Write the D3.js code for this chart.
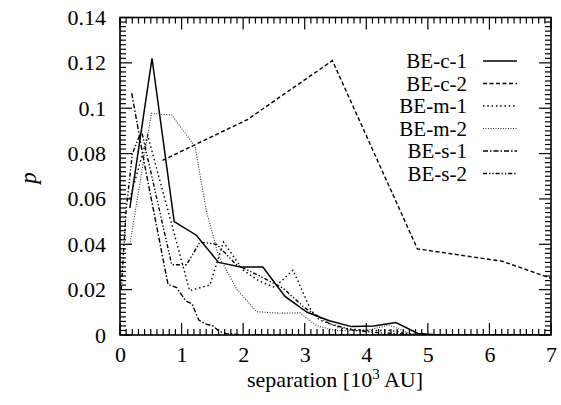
<!DOCTYPE html>
<html><head><meta charset="utf-8">
<script src="https://cdn.jsdelivr.net/npm/d3@7"></script>
<style>body{margin:0;background:#fff}svg{display:block}</style>
</head><body>
<script>
const seriesNames = ["BE-c-1","BE-c-2","BE-m-1","BE-m-2","BE-s-1","BE-s-2"];
const c1x = [0.16,0.52,0.88,1.24,1.60,1.96,2.32,2.68,3.04,3.40,3.76,4.12,4.48,4.84,5.20,5.56,5.92,6.28,6.64,7.00];
const c1y = [0.056,0.122,0.050,0.044,0.032,0.030,0.030,0.017,0.010,0.0063,0.0037,0.004,0.0055,0.0007,0,0,0,0,0,0];
const c2x = [0.69,2.07,3.45,4.83,6.21,7.0];
const c2y = [0.077,0.095,0.121,0.038,0.0325,0.025];
const m1x = [0.16,0.45,1.13,1.46,1.68,2.0,2.25,2.51,2.81,3.1,3.24,3.6,4.0,4.4,4.8,6.0,7.0];
const m1y = [0.06,0.088,0.0196,0.022,0.041,0.0286,0.024,0.021,0.0286,0.011,0.0066,0.003,0.002,0.002,0,0,0];
const m2x = [0.16,0.51,0.84,1.03,1.22,1.40,1.6,1.9,2.22,2.59,2.92,3.2,3.5,4.0,4.38,4.75,5.5,7.0];
const m2y = [0.04,0.0977,0.097,0.090,0.083,0.055,0.035,0.020,0.0103,0.0096,0.0098,0.004,0.002,0.002,0.0044,0,0,0];
const s1x = [0.19,0.40,0.78,0.92,1.07,1.17,1.28,1.40,1.51,1.62,1.72,2.0,3.0,5.0,7.0];
const s1y = [0.1066,0.075,0.0223,0.0209,0.015,0.0137,0.0066,0.0048,0.004,0.0015,0.0007,0,0,0,0];
const s2x = [0.02,0.10,0.20,0.35,0.84,1.08,1.30,1.57,1.89,2.27,2.65,3.0,3.4,3.8,4.2,5.0,7.0];
const s2y = [0.02,0.055,0.08,0.09,0.031,0.031,0.041,0.040,0.031,0.026,0.0206,0.012,0.005,0.002,0.001,0,0];
const xTicks = [0,1,2,3,4,5,6,7];
const yTicks = [0,0.02,0.04,0.06,0.08,0.1,0.12,0.14];
const yTickLabels = ["0","0.02","0.04","0.06","0.08","0.1","0.12","0.14"];

const FONT = "'Liberation Serif','Times New Roman',Times,'DejaVu Serif',serif";
const W=561,H=405, L=120, R=551, T=17.5, B=335;
const svg=d3.select("body").append("svg").attr("width",W).attr("height",H).style("font-family",FONT);
const x=d3.scaleLinear().domain([0,7]).range([L,R]);
const y=d3.scaleLinear().domain([0,0.14]).range([B,T]);

const styles=[
 {dash:null, w:1.5, c:"#000"},
 {dash:"4,2.5", w:1.4, c:"#000"},
 {dash:"1.5,2.8", w:1.4, c:"#000"},
 {dash:"1,1.5", w:1.1, c:"#333"},
 {dash:"5,2,1.5,2", w:1.4, c:"#000"},
 {dash:"4,2,1.3,2,1.3,2", w:1.4, c:"#000"}
];
const data=[[c1x,c1y],[c2x,c2y],[m1x,m1y],[m2x,m2y],[s1x,s1y],[s2x,s2y]];
svg.append("clipPath").attr("id","clip").append("rect").attr("x",L).attr("y",T).attr("width",R-L).attr("height",B-T);
const line=d3.line().x(d=>x(d[0])).y(d=>y(d[1]));
const g=svg.append("g").attr("clip-path","url(#clip)");
data.forEach((s,i)=>{
  const pts=s[0].map((v,j)=>[v,s[1][j]]);
  g.append("path").attr("d",line(pts)).attr("fill","none").attr("stroke",styles[i].c)
   .attr("stroke-width",styles[i].w).attr("stroke-dasharray",styles[i].dash).attr("stroke-linejoin","miter");
});

const ax=svg.append("g");
const xMinor=d3.range(0,7.0001,0.1), yMinor=d3.range(0,0.14001,0.002);
xMinor.forEach(v=>{
  const major=Math.abs(v-Math.round(v))<1e-6, len=major?12:6;
  ax.append("line").attr("x1",x(v)).attr("x2",x(v)).attr("y1",B).attr("y2",B-len).attr("stroke","#000").attr("stroke-width",1.2);
  ax.append("line").attr("x1",x(v)).attr("x2",x(v)).attr("y1",T).attr("y2",T+len).attr("stroke","#000").attr("stroke-width",1.2);
});
yMinor.forEach(v=>{
  const k=v/0.02, major=Math.abs(k-Math.round(k))<1e-6, len=major?12:6;
  ax.append("line").attr("y1",y(v)).attr("y2",y(v)).attr("x1",L).attr("x2",L+len).attr("stroke","#000").attr("stroke-width",1.2);
  ax.append("line").attr("y1",y(v)).attr("y2",y(v)).attr("x1",R).attr("x2",R-len).attr("stroke","#000").attr("stroke-width",1.2);
});
ax.append("rect").attr("x",L).attr("y",T).attr("width",R-L).attr("height",B-T).attr("fill","none").attr("stroke","#000").attr("stroke-width",1.6);

const xAxis=d3.axisBottom(x).tickValues(xTicks).tickSize(0).tickFormat(d3.format("d"));
const xa=svg.append("g").attr("transform",`translate(0,${B})`).call(xAxis);
xa.attr("font-family",null).attr("font-size",null);
xa.select(".domain").remove();
xa.selectAll("text").attr("font-size",22).attr("dy","0").attr("y",27).style("font-family",FONT).attr("fill","#000");
const yAxis=d3.axisLeft(y).tickValues(yTicks).tickSize(0).tickFormat((d,i)=>yTickLabels[i]);
const ya=svg.append("g").attr("transform",`translate(${L},0)`).call(yAxis);
ya.attr("font-family",null).attr("font-size",null);
ya.select(".domain").remove();
ya.selectAll("text").attr("font-size",22).attr("x",-14).attr("dy","0.32em").style("font-family",FONT).attr("fill","#000");

svg.append("text").attr("x",335).attr("y",387).attr("text-anchor","middle").attr("font-size",22).style("font-family",FONT)
  .html('separation [10<tspan dy="-8" font-size="15">3</tspan><tspan dy="8"> AU]</tspan>');
svg.append("text").attr("transform","translate(36,178) rotate(-90)").attr("text-anchor","middle").style("font-family",FONT)
  .attr("font-size",23).attr("font-style","italic").text("p");

const lg=svg.append("g");
const rowsY=[61,83.5,106,128.5,151,173.5];
seriesNames.forEach((n,i)=>{
  lg.append("text").attr("x",467).attr("y",rowsY[i]).attr("dy","0.35em").attr("text-anchor","end").attr("font-size",21).style("font-family",FONT).text(n);
  lg.append("line").attr("x1",483).attr("x2",517).attr("y1",rowsY[i]).attr("y2",rowsY[i]).attr("stroke",styles[i].c)
   .attr("stroke-width",styles[i].w).attr("stroke-dasharray",styles[i].dash);
});
</script>
</body></html>
